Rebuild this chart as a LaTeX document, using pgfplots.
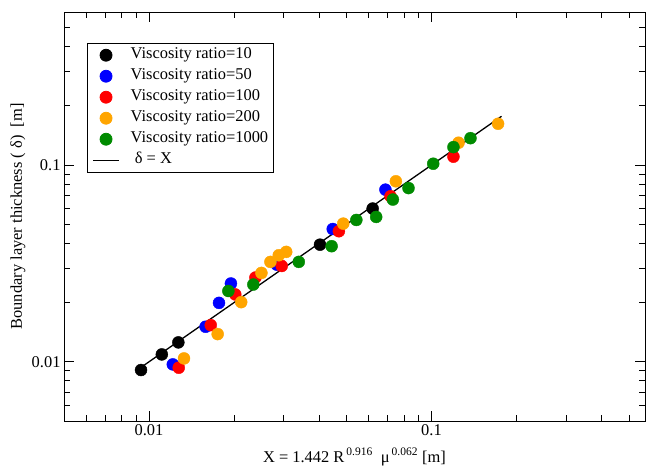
\documentclass[border=0pt]{standalone}
\usepackage{fontspec}
\setmainfont{Liberation Serif}
\usepackage{pgfplots}
\pgfplotsset{compat=1.18}
\definecolor{gorange}{RGB}{255,165,0}
\definecolor{ggreen}{RGB}{0,139,0}
\begin{document}
\begin{tikzpicture}[x=1bp,y=1bp]
\useasboundingbox (-64,-45) rectangle (582,421);
\begin{axis}[
  at={(0,0)}, anchor=south west,
  scale only axis, width=581bp, height=409bp,
  xmode=log, ymode=log,
  xmin=0.005, xmax=0.57, ymin=0.005, ymax=0.6,
  xtick={0.01,0.1}, xticklabels={\textrm{0.01},\textrm{0.1}},
  ytick={0.01,0.1}, yticklabels={\textrm{0.01},\textrm{0.1}},
  minor xtick={0.006,0.007,0.008,0.009,0.02,0.03,0.04,0.05,0.06,0.07,0.08,0.09,0.2,0.3,0.4,0.5},
  minor ytick={0.006,0.007,0.008,0.009,0.02,0.03,0.04,0.05,0.06,0.07,0.08,0.09,0.2,0.3,0.4,0.5},
  tick align=inside, major tick length=10bp, minor tick length=6bp,
  every tick/.style={black, line width=0.8bp},
  axis line style={line width=0.9bp},
  ticklabel style={font=\fontsize{16.5}{19}\selectfont},
  xticklabel style={yshift=0bp},
  yticklabel style={xshift=0bp},
  label style={font=\fontsize{16.5}{19}\selectfont},
  xlabel={X = 1.442 R\textsuperscript{\,0.916}\ \ μ\textsuperscript{\,0.062} [m]},
  ylabel={Boundary layer thickness ( δ)\ \ [m]},
  xlabel style={at={(axis description cs:0.5,0)}, anchor=base, yshift=-41bp},
  ylabel style={at={(axis description cs:0,0.5)}, anchor=center, rotate=0, yshift=46bp},
  legend cell align=left,
  legend style={at={(axis description cs:0.0396,0.924)}, anchor=north west,
    draw=black, line width=0.8bp, fill=white,
    font=\fontsize{16.5}{19}\selectfont,
    inner xsep=5bp, inner ysep=4bp, row sep=5.5bp,
    nodes={inner sep=0bp, text height=11.5bp, text depth=4bp},
    /tikz/every odd column/.append style={column sep=11bp}},
  legend image code/.code={\draw[mark repeat=2,mark phase=2,#1] plot coordinates {(0bp,0bp) (13bp,0bp) (26bp,0bp)};},
  every axis plot/.append style={mark=*, only marks, mark size=6bp, mark options={draw=none}},
]
\addplot[color=black, fill=black] coordinates {
 (0.00937,0.00908) (0.0111,0.0109) (0.0127,0.01255) (0.0403,0.0394) (0.0619,0.0601)
};
\addlegendentry{Viscosity ratio=10}
\addplot[color=blue, fill=blue] coordinates {
 (0.01214,0.0097) (0.01586,0.01507) (0.01769,0.01993) (0.0195,0.0250) (0.0283,0.0312) (0.0447,0.0473) (0.0687,0.0750)
};
\addlegendentry{Viscosity ratio=50}
\addplot[color=red, fill=red] coordinates {
 (0.01274,0.00933) (0.01654,0.01536) (0.0202,0.0220) (0.0238,0.0268) (0.0295,0.0307) (0.0470,0.0461) (0.0716,0.0694) (0.1196,0.1103)
};
\addlegendentry{Viscosity ratio=100}
\addplot[color=gorange, fill=gorange] coordinates {
 (0.0133,0.0104) (0.0175,0.01383) (0.0212,0.0201) (0.0250,0.0283) (0.0269,0.0322) (0.0288,0.0348) (0.0306,0.0362) (0.0487,0.0504) (0.0748,0.0827) (0.1247,0.1299) (0.1721,0.1622)
};
\addlegendentry{Viscosity ratio=200}
\addplot[color=ggreen, fill=ggreen] coordinates {
 (0.0191,0.0229) (0.0234,0.0247) (0.0339,0.0322) (0.0443,0.0387) (0.0542,0.0526) (0.0637,0.0545) (0.0730,0.0668) (0.0829,0.0764) (0.1014,0.1016) (0.1196,0.1234) (0.1374,0.1370)
};
\addlegendentry{Viscosity ratio=1000}
\addplot[black, line width=1.3bp, mark=none, sharp plot] coordinates {
 (0.0095,0.0095) (0.177,0.177)
};
\addlegendentry{\ δ = X}
\end{axis}
\end{tikzpicture}
\end{document}
